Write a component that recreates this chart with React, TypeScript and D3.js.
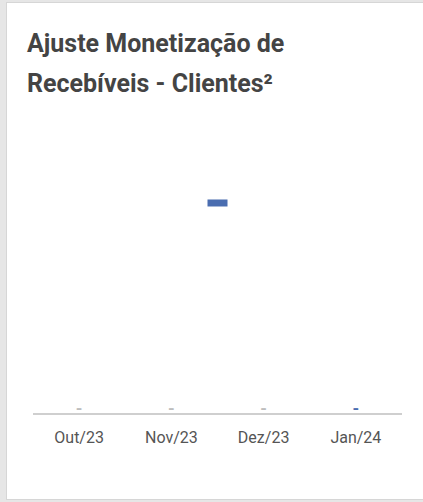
import React from "react";
import * as d3 from "d3";

const categories = ["Out/23", "Nov/23", "Dez/23", "Jan/24"];
const values = [0, 0, 0, 0];
const labelColors = ["#bdbdbd", "#bdbdbd", "#bdbdbd", "#4a6db0"];
const dataLabels = ["-", "-", "-", "-"];
const floatingBarValue = [0.743];
const floatingBarBetween = [["Nov/23", "Dez/23"]];
const titleLines = ["Ajuste Monetização de", "Recebíveis - Clientes²"];

export default function App() {
  const W = 423, H = 502;
  const x = d3.scaleBand<string>().domain(categories).range([33, 402]).paddingInner(0.2).paddingOuter(0.1);
  const y = d3.scaleLinear().domain([0, 1]).range([414, 130]);
  const blue = "#4a6db0";
  return (
    <svg width={W} height={H} style={{ position: "absolute", left: 0, top: 0, fontFamily: "Roboto" }}>
      <rect x={0} y={0} width={W} height={H} fill="#e6e6e6" />
      <rect x={6.5} y={2.5} width={W - 5} height={H - 5} fill="#fff" stroke="#d6d6d6" />
      {titleLines.map((t, i) => (
        <text key={i} x={27} y={52 + i * 40} fontSize={25} fontWeight="bold" fill="#444">{t}</text>
      ))}
      <line x1={33} x2={402} y1={y(0)} y2={y(0)} stroke="#cfcfcf" strokeWidth={2} />
      {categories.map((c, i) => {
        const cx = (x(c) as number) + x.bandwidth() / 2;
        return (
          <g key={c}>
            <rect x={x(c)} width={x.bandwidth()} y={y(values[i])} height={y(0) - y(values[i])} fill={blue} />
            <text x={cx} y={y(values[i]) + 0} textAnchor="middle" fontSize={17} fontWeight="bold" fill={labelColors[i]}>{dataLabels[i]}</text>
            <text x={cx} y={443} textAnchor="middle" fontSize={16} fill="#555">{c}</text>
          </g>
        );
      })}
      {floatingBarValue.map((v, i) => {
        const [a, b] = floatingBarBetween[i];
        const cx = ((x(a) as number) + x.bandwidth() / 2 + (x(b) as number) + x.bandwidth() / 2) / 2;
        return <rect key={i} x={cx - 10} width={20} y={y(v) - 3.5} height={7} fill={blue} />;
      })}
    </svg>
  );
}
